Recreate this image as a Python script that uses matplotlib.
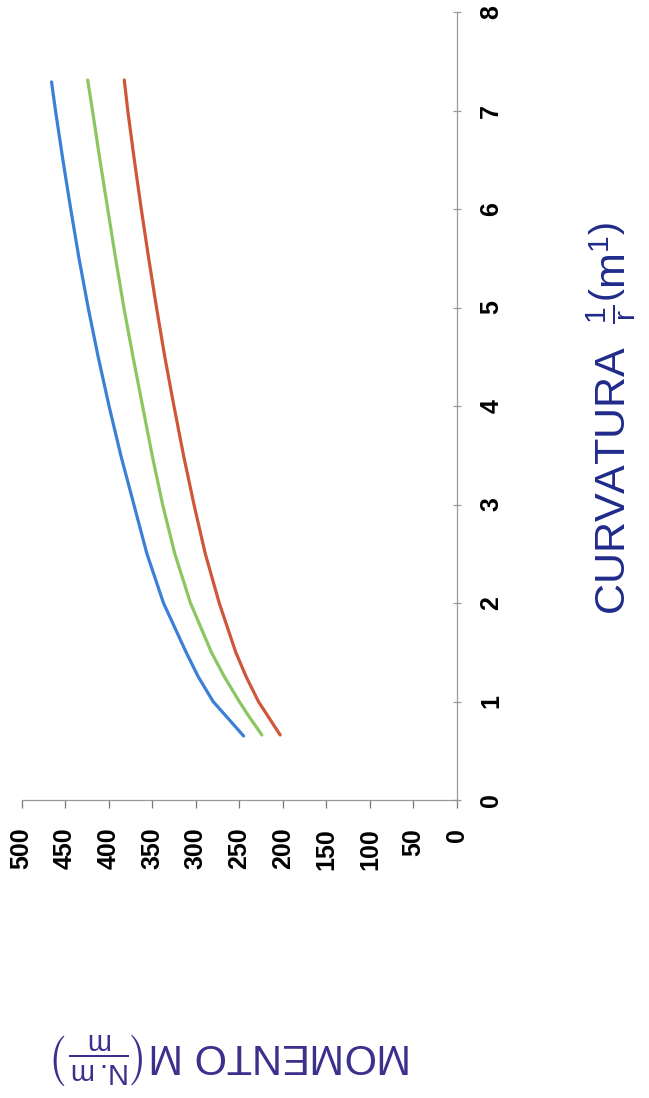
import matplotlib
matplotlib.use("Agg")
import matplotlib.pyplot as plt

plt.rcParams['font.family'] = ['Liberation Sans', 'DejaVu Sans']
plt.rcParams['mathtext.fontset'] = 'custom'
plt.rcParams['mathtext.rm'] = 'Liberation Sans'
plt.rcParams['mathtext.it'] = 'Liberation Sans:italic'
plt.rcParams['mathtext.bf'] = 'Liberation Sans:bold'

# ---- data (moment N.m/m vs curvature 1/m) ----
moment_ticks = [0, 50, 100, 150, 200, 250, 300, 350, 400, 450, 500]
curv_ticks = [0, 1, 2, 3, 4, 5, 6, 7, 8]

blue_curv = [0.65, 0.85, 1.0, 1.25, 1.5, 2.0, 2.5, 3.0, 3.5, 4.0, 4.5, 5.0, 5.5, 6.0, 6.5, 7.0, 7.29]
blue_moment = [245, 265, 280, 297, 311, 337, 356, 371, 386, 399.5, 412, 423.5, 434, 443.5, 452.5, 461, 465.5]

green_curv = [0.66, 0.85, 1.0, 1.25, 1.5, 2.0, 2.5, 3.0, 3.5, 4.0, 4.5, 5.0, 5.5, 6.0, 6.5, 7.0, 7.31]
green_moment = [224, 239, 250, 267, 282, 306, 324, 338, 350, 361, 372, 382.5, 392, 401, 410, 418.5, 424]

red_curv = [0.66, 0.85, 1.0, 1.25, 1.5, 2.0, 2.5, 3.0, 3.5, 4.0, 4.5, 5.0, 5.5, 6.0, 6.5, 7.0, 7.31]
red_moment = [203, 217, 228, 242, 254, 273, 289, 302, 314, 325, 335.5, 345, 354, 362.5, 370.5, 378, 382]

W, H = 649, 1098
fig = plt.figure(figsize=(W / 100, H / 100), dpi=100)
fig.patch.set_facecolor('white')

x0, x1 = 21.5, 457.0   # pixel columns of moment 500 and 0
y0, y1 = 800.0, 12.0   # pixel rows of curvature 0 and 8
ax = fig.add_axes([x0 / W, 1 - y0 / H, (x1 - x0) / W, (y0 - y1) / H])
ax.set_xlim(500, 0)
ax.set_ylim(0, 8)

lw = 2.3
ax.plot(blue_moment, blue_curv, color='#3b80d6', lw=lw, solid_capstyle='round')
ax.plot(green_moment, green_curv, color='#8cc660', lw=lw, solid_capstyle='round')
ax.plot(red_moment, red_curv, color='#d0563a', lw=lw, solid_capstyle='round')

for s in ['top', 'left']:
    ax.spines[s].set_visible(False)
for s in ['bottom', 'right']:
    ax.spines[s].set_color('#9a9a9a')
    ax.spines[s].set_linewidth(0.9)

ax.yaxis.tick_right()
ax.set_xticks(moment_ticks)
ax.set_yticks(curv_ticks)
ax.set_xticklabels([str(v) for v in moment_ticks], rotation=90,
                   fontsize=18, fontweight='bold')
ax.set_yticklabels([str(v) for v in curv_ticks], rotation=90,
                   fontsize=18, fontweight='bold', va='center')
ax.tick_params(axis='x', direction='out', length=6, width=0.9, color='#777777', pad=14)
ax.tick_params(axis='y', direction='inout', length=6, width=0.9, color='#9a9a9a', pad=13)
ax.patch.set_alpha(0)

fig.text(611 / W, 1 - 418 / H,
         r'CURVATURA  $\frac{1}{\mathrm{r}}\left(\mathrm{m}^{1}\right)$',
         rotation=90, ha='center', va='center', fontsize=31, color='#1f2a8a')
fig.text(232 / W, 1 - 1058 / H,
         r'MOMENTO M$\left(\frac{\mathrm{N.m}}{\mathrm{m}}\right)$',
         rotation=180, ha='center', va='center', fontsize=30, color='#3a2f8c')

fig.savefig('out.png', dpi=100)
